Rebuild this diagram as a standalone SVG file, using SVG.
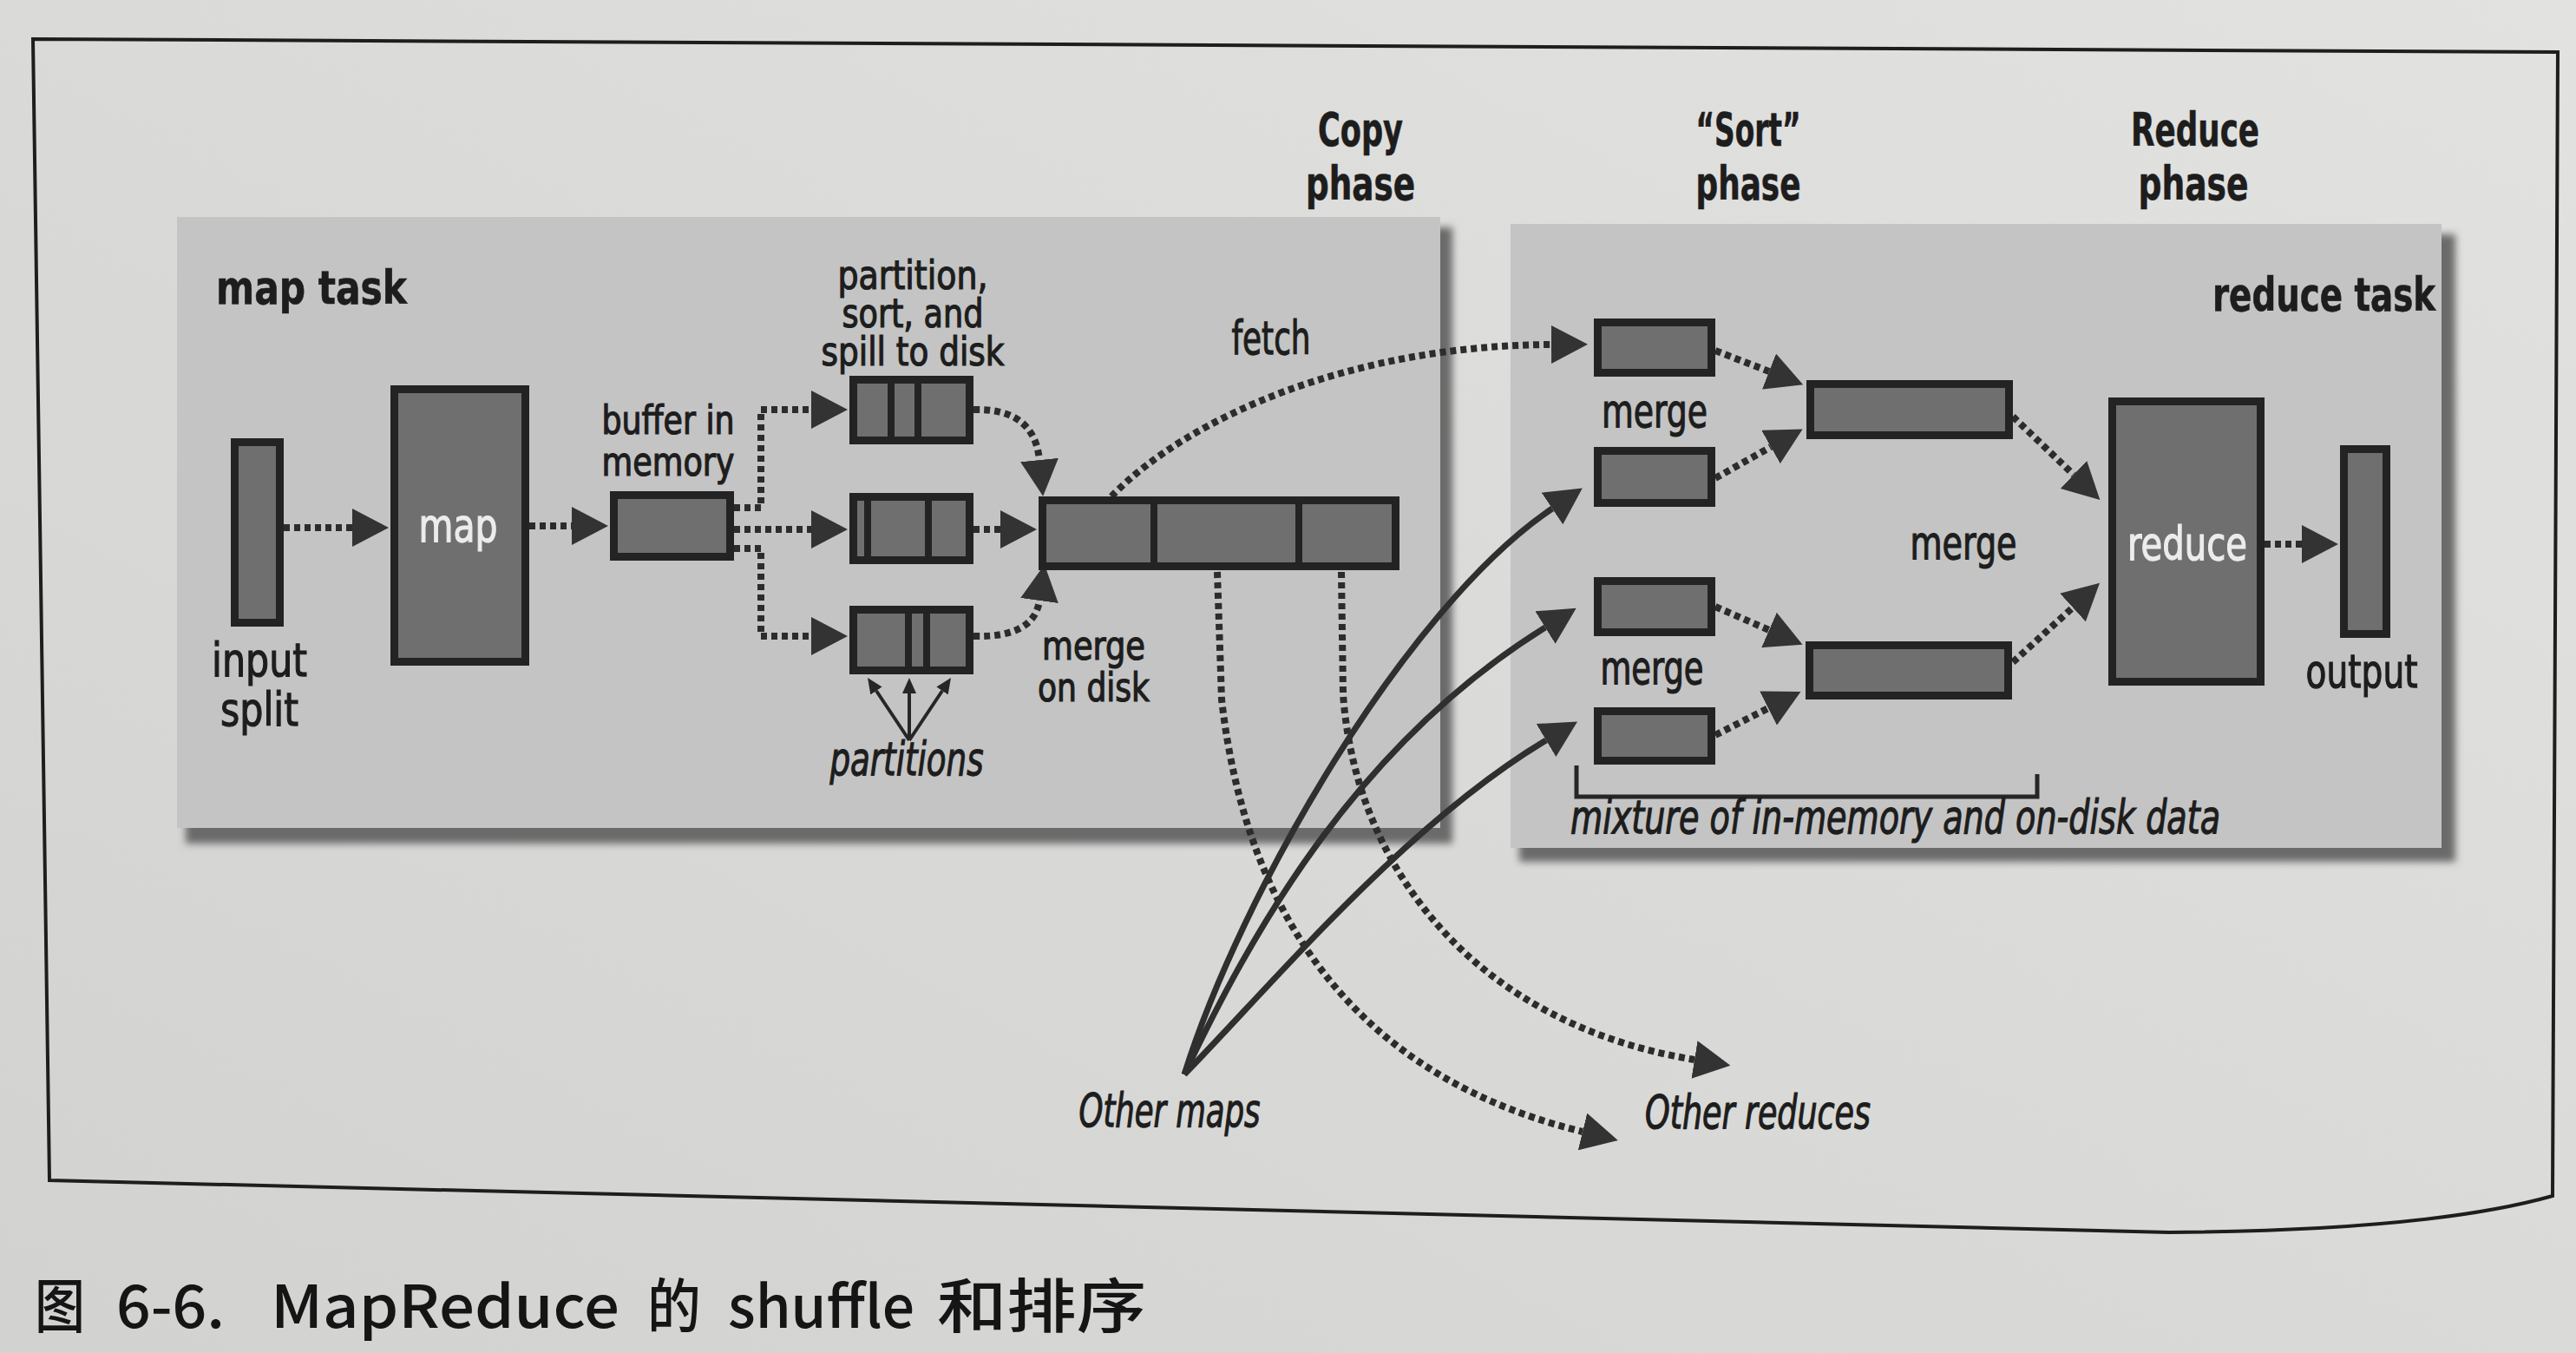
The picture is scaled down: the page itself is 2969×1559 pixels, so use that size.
<svg xmlns="http://www.w3.org/2000/svg" width="2969" height="1559" viewBox="0 0 2969 1559">
<defs>
<style>
.t{font-family:"Liberation Sans Narrow","DejaVu Sans Condensed","Liberation Sans",sans-serif;font-size:54px;fill:#1d1d1d;stroke:#1d1d1d;stroke-width:1.2;text-anchor:middle}
.st{font-size:46px}
.s{text-anchor:start}
.b{font-weight:bold;stroke-width:0.6}
.i{font-style:italic}
.w{fill:#ececec;stroke:#ececec}
.box{fill:#6f6f6f;stroke:#232323;stroke-width:9}
.div{stroke:#232323;stroke-width:8}
.dot{fill:none;stroke:#2c2c2c;stroke-width:8;stroke-dasharray:7 5;marker-end:url(#ah)}
.sol{fill:none;stroke:#2f2f2f;stroke-width:7;marker-end:url(#ah)}
.thin{fill:none;stroke:#262626;stroke-width:4;marker-end:url(#ahs)}
.panel{fill:#c4c4c4}
.shadow{fill:#6a6a6a}
.cap{font-family:"Noto Sans CJK SC","Liberation Sans",sans-serif;font-size:68px;font-weight:500;fill:#151515}
</style>
<marker id="ah" viewBox="0 0 42 44" refX="0" refY="22" markerWidth="42" markerHeight="44" markerUnits="userSpaceOnUse" orient="auto"><path d="M0,0L42,22L0,44Z" fill="#333333"/></marker>
<marker id="ahs" viewBox="0 0 18 16" refX="0" refY="8" markerWidth="18" markerHeight="16" markerUnits="userSpaceOnUse" orient="auto"><path d="M0,0L18,8L0,16Z" fill="#262626"/></marker>
<filter id="blur" x="-5%" y="-5%" width="110%" height="110%"><feGaussianBlur stdDeviation="4"/></filter>
<linearGradient id="page" x1="1" y1="0" x2="0" y2="1"><stop offset="0" stop-color="#e2e2e0"/><stop offset="1" stop-color="#d2d2d0"/></linearGradient>
</defs>
<rect x="0" y="0" width="2969" height="1559" fill="url(#page)"/>
<path d="M38,45 L2948,60 L2942,1378 Q2800,1418 2500,1420 L57,1360 Z" fill="none" stroke="#1e1e1e" stroke-width="4"/>

<g id="map-task-panel">
<rect class="shadow" x="214" y="262" width="1460" height="710" filter="url(#blur)"/>
<rect class="panel" x="204" y="250" width="1456" height="704"/>
<text class="t b s" x="249" y="350" textLength="220" lengthAdjust="spacingAndGlyphs">map task</text>
</g>
<g id="reduce-task-panel">
<rect class="shadow" x="1751" y="270" width="1079" height="723" filter="url(#blur)"/>
<rect class="panel" x="1741" y="258" width="1073" height="719"/>
<text class="t b s" x="2550" y="358" textLength="257" lengthAdjust="spacingAndGlyphs">reduce task</text>
</g>

<g id="phase-labels">
<text class="t b" x="1568" y="168" textLength="98" lengthAdjust="spacingAndGlyphs">Copy</text>
<text class="t b" x="1568" y="230" textLength="126" lengthAdjust="spacingAndGlyphs">phase</text>
<text class="t b" x="2015" y="168" textLength="121" lengthAdjust="spacingAndGlyphs">“Sort”</text>
<text class="t b" x="2015" y="230" textLength="121" lengthAdjust="spacingAndGlyphs">phase</text>
<text class="t b" x="2530" y="168" textLength="148" lengthAdjust="spacingAndGlyphs">Reduce</text>
<text class="t b" x="2528" y="230" textLength="127" lengthAdjust="spacingAndGlyphs">phase</text>
</g>

<g id="connectors">
<path class="dot" d="M327,608 H406"/>
<path class="dot" d="M610,606 H659"/>
<path class="dot" d="M846,585 H877 V472 H935"/>
<path class="dot" d="M846,610 H935"/>
<path class="dot" d="M846,632 H877 V733 H935"/>
<path class="dot" d="M1122,472 Q1192,470 1198,530"/>
<path class="dot" d="M1122,610 H1153"/>
<path class="dot" d="M1122,733 Q1192,735 1198,692"/>
<path class="dot" d="M1281,572 C1370,480 1560,398 1788,397"/>
<path class="dot" d="M1546,659 L1548,800 C1562,1000 1700,1180 1953,1221"/>
<path class="dot" d="M1403,659 L1408,806 C1430,1000 1520,1230 1824,1304"/>
<path class="sol" d="M1365,1238 C1430,1030 1620,700 1789,586"/>
<path class="sol" d="M1365,1238 C1440,1080 1560,860 1781,723"/>
<path class="sol" d="M1365,1238 C1470,1130 1620,950 1782,853"/>
<path class="dot" d="M1977,404 L2039,428"/>
<path class="dot" d="M1977,551 L2041,515"/>
<path class="dot" d="M1977,699 L2039,726"/>
<path class="dot" d="M1977,847 L2038,816"/>
<path class="dot" d="M2320,480 L2390,547"/>
<path class="dot" d="M2320,763 L2389,700"/>
<path class="dot" d="M2610,627 H2653"/>
<path class="thin" d="M1048,853 L1010,796"/>
<path class="thin" d="M1048,853 L1048,799"/>
<path class="thin" d="M1048,853 L1086,796"/>
<path d="M1817,882 V918 H2348 V892" fill="none" stroke="#262626" stroke-width="5"/>
</g>

<g id="input-split">
<rect class="box" x="270.5" y="509.5" width="52" height="208"/>
<text class="t" x="299" y="779" textLength="110" lengthAdjust="spacingAndGlyphs">input</text>
<text class="t" x="299" y="836" textLength="90" lengthAdjust="spacingAndGlyphs">split</text>
</g>
<g id="map">
<rect class="box" x="454.5" y="448.5" width="151" height="314"/>
<text class="t w" x="528" y="624" textLength="91" lengthAdjust="spacingAndGlyphs">map</text>
</g>
<g id="buffer">
<rect class="box" x="707.5" y="570.5" width="134" height="71"/>
<text class="t st" x="770" y="500" textLength="153" lengthAdjust="spacingAndGlyphs">buffer in</text>
<text class="t st" x="770" y="548" textLength="153" lengthAdjust="spacingAndGlyphs">memory</text>
</g>
<g id="spills">
<text class="t st" x="1052" y="333" textLength="173" lengthAdjust="spacingAndGlyphs">partition,</text>
<text class="t st" x="1052" y="377" textLength="163" lengthAdjust="spacingAndGlyphs">sort, and</text>
<text class="t st" x="1052" y="421" textLength="211" lengthAdjust="spacingAndGlyphs">spill to disk</text>
<rect class="box" x="983.5" y="437.5" width="134" height="70"/>
<line class="div" x1="1027" y1="438" x2="1027" y2="507"/>
<line class="div" x1="1058" y1="438" x2="1058" y2="507"/>
<rect class="box" x="983.5" y="572.5" width="134" height="73"/>
<line class="div" x1="1000" y1="573" x2="1000" y2="645"/>
<line class="div" x1="1070" y1="573" x2="1070" y2="645"/>
<rect class="box" x="983.5" y="702.5" width="134" height="70"/>
<line class="div" x1="1047" y1="703" x2="1047" y2="772"/>
<line class="div" x1="1068" y1="703" x2="1068" y2="772"/>
<text class="t i" x="1045" y="893" textLength="177" lengthAdjust="spacingAndGlyphs">partitions</text>
</g>
<g id="merge-on-disk">
<rect class="box" x="1201.5" y="576.5" width="407" height="76"/>
<line class="div" x1="1330" y1="577" x2="1330" y2="652"/>
<line class="div" x1="1497" y1="577" x2="1497" y2="652"/>
<text class="t st s" x="1201" y="760" textLength="119" lengthAdjust="spacingAndGlyphs">merge</text>
<text class="t st s" x="1196" y="808" textLength="129" lengthAdjust="spacingAndGlyphs">on disk</text>
<text class="t" x="1465" y="408" textLength="91" lengthAdjust="spacingAndGlyphs">fetch</text>
</g>
<g id="reduce-inputs">
<rect class="box" x="1841.5" y="371.5" width="131" height="58"/>
<rect class="box" x="1841.5" y="519.5" width="131" height="60"/>
<rect class="box" x="1841.5" y="669.5" width="131" height="59"/>
<rect class="box" x="1841.5" y="819.5" width="131" height="57"/>
<text class="t" x="1907" y="492" textLength="122" lengthAdjust="spacingAndGlyphs">merge</text>
<text class="t" x="1904" y="788" textLength="119" lengthAdjust="spacingAndGlyphs">merge</text>
<text class="t i s" x="1810" y="960" textLength="749" lengthAdjust="spacingAndGlyphs">mixture of in-memory and on-disk data</text>
</g>
<g id="merged">
<rect class="box" x="2086.5" y="442.5" width="229" height="59"/>
<rect class="box" x="2085.5" y="743.5" width="229" height="58"/>
<text class="t" x="2263" y="644" textLength="123" lengthAdjust="spacingAndGlyphs">merge</text>
</g>
<g id="reduce">
<rect class="box" x="2434.5" y="462.5" width="171" height="323"/>
<text class="t w" x="2521" y="645" textLength="138" lengthAdjust="spacingAndGlyphs">reduce</text>
</g>
<g id="output">
<rect class="box" x="2701.5" y="517.5" width="49" height="213"/>
<text class="t" x="2722" y="792" textLength="129" lengthAdjust="spacingAndGlyphs">output</text>
</g>
<g id="other-maps">
<text class="t i" x="1348" y="1298" textLength="209" lengthAdjust="spacingAndGlyphs">Other maps</text>
</g>
<g id="other-reduces">
<text class="t i" x="2026" y="1300" textLength="260" lengthAdjust="spacingAndGlyphs">Other reduces</text>
</g>
<g id="caption">
<text class="cap" x="40" y="1530" textLength="58" lengthAdjust="spacingAndGlyphs">图</text>
<text class="cap" x="134" y="1530" textLength="125" lengthAdjust="spacingAndGlyphs">6-6.</text>
<text class="cap" x="312" y="1530" textLength="402" lengthAdjust="spacingAndGlyphs">MapReduce</text>
<text class="cap" x="746" y="1530" textLength="62" lengthAdjust="spacingAndGlyphs">的</text>
<text class="cap" x="839" y="1530" textLength="215" lengthAdjust="spacingAndGlyphs">shuffle</text>
<text class="cap" x="1080" y="1530" textLength="241" lengthAdjust="spacingAndGlyphs">和排序</text>
</g>
</svg>
